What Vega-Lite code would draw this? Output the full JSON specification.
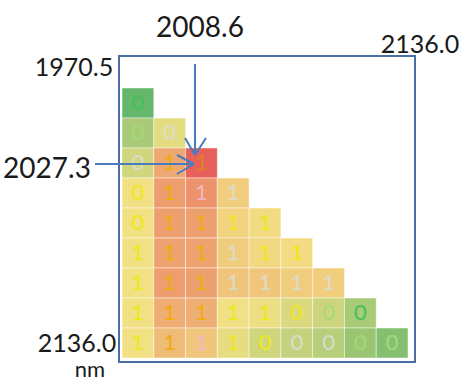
{
  "$schema": "https://vega.github.io/schema/vega-lite/v6.json",
  "width": 296,
  "height": 306,
  "autosize": {"type": "none"},
  "padding": {"left": 119, "top": 56, "right": 51, "bottom": 21},
  "background": "#ffffff",
  "config": {"view": {"stroke": "#4b6ea6", "strokeWidth": 2}, "font": "Lato"},
  "datasets": {
    "cells": [
      {"row": 0, "col": 0, "v": 0.02, "label": "0", "tone": "green"},
      {"row": 1, "col": 0, "v": 0.25, "label": "0", "tone": "lime"},
      {"row": 1, "col": 1, "v": 0.45, "label": "0", "tone": "grey"},
      {"row": 2, "col": 0, "v": 0.38, "label": "0", "tone": "grey"},
      {"row": 2, "col": 1, "v": 0.72, "label": "1", "tone": "gold"},
      {"row": 2, "col": 2, "v": 1.0, "label": "1", "tone": "amber"},
      {"row": 3, "col": 0, "v": 0.5, "label": "0", "tone": "yellow"},
      {"row": 3, "col": 1, "v": 0.76, "label": "1", "tone": "gold"},
      {"row": 3, "col": 2, "v": 0.8, "label": "1", "tone": "pink"},
      {"row": 3, "col": 3, "v": 0.57, "label": "1", "tone": "grey"},
      {"row": 4, "col": 0, "v": 0.5, "label": "0", "tone": "yellow"},
      {"row": 4, "col": 1, "v": 0.75, "label": "1", "tone": "gold"},
      {"row": 4, "col": 2, "v": 0.75, "label": "1", "tone": "gold"},
      {"row": 4, "col": 3, "v": 0.55, "label": "1", "tone": "yellow"},
      {"row": 4, "col": 4, "v": 0.52, "label": "1", "tone": "yellow"},
      {"row": 5, "col": 0, "v": 0.5, "label": "1", "tone": "yellow"},
      {"row": 5, "col": 1, "v": 0.74, "label": "1", "tone": "gold"},
      {"row": 5, "col": 2, "v": 0.74, "label": "1", "tone": "gold"},
      {"row": 5, "col": 3, "v": 0.58, "label": "1", "tone": "grey"},
      {"row": 5, "col": 4, "v": 0.53, "label": "1", "tone": "yellow"},
      {"row": 5, "col": 5, "v": 0.52, "label": "1", "tone": "yellow"},
      {"row": 6, "col": 0, "v": 0.5, "label": "1", "tone": "yellow"},
      {"row": 6, "col": 1, "v": 0.76, "label": "1", "tone": "gold"},
      {"row": 6, "col": 2, "v": 0.75, "label": "1", "tone": "gold"},
      {"row": 6, "col": 3, "v": 0.61, "label": "1", "tone": "grey"},
      {"row": 6, "col": 4, "v": 0.6, "label": "1", "tone": "grey"},
      {"row": 6, "col": 5, "v": 0.58, "label": "1", "tone": "grey"},
      {"row": 6, "col": 6, "v": 0.57, "label": "1", "tone": "grey"},
      {"row": 7, "col": 0, "v": 0.5, "label": "1", "tone": "yellow"},
      {"row": 7, "col": 1, "v": 0.7, "label": "1", "tone": "gold"},
      {"row": 7, "col": 2, "v": 0.69, "label": "1", "tone": "gold"},
      {"row": 7, "col": 3, "v": 0.5, "label": "1", "tone": "yellow"},
      {"row": 7, "col": 4, "v": 0.48, "label": "1", "tone": "yellow"},
      {"row": 7, "col": 5, "v": 0.42, "label": "0", "tone": "yellow"},
      {"row": 7, "col": 6, "v": 0.37, "label": "0", "tone": "lime"},
      {"row": 7, "col": 7, "v": 0.25, "label": "0", "tone": "green"},
      {"row": 8, "col": 0, "v": 0.5, "label": "1", "tone": "yellow"},
      {"row": 8, "col": 1, "v": 0.64, "label": "1", "tone": "gold"},
      {"row": 8, "col": 2, "v": 0.6, "label": "1", "tone": "pink"},
      {"row": 8, "col": 3, "v": 0.46, "label": "1", "tone": "yellow"},
      {"row": 8, "col": 4, "v": 0.38, "label": "0", "tone": "yellow"},
      {"row": 8, "col": 5, "v": 0.34, "label": "0", "tone": "grey"},
      {"row": 8, "col": 6, "v": 0.3, "label": "0", "tone": "grey"},
      {"row": 8, "col": 7, "v": 0.2, "label": "0", "tone": "lime"},
      {"row": 8, "col": 8, "v": 0.13, "label": "0", "tone": "lime"}
    ],
    "arrows": [
      {"x": 2.288, "y": -0.803, "x2": 2.288, "y2": 2.23},
      {"x": 1.974, "y": 1.663, "x2": 2.288, "y2": 2.23},
      {"x": 2.633, "y": 1.663, "x2": 2.288, "y2": 2.23},
      {"x": -0.854, "y": 2.53, "x2": 2.256, "y2": 2.53},
      {"x": 1.722, "y": 2.23, "x2": 2.256, "y2": 2.53},
      {"x": 1.722, "y": 2.863, "x2": 2.256, "y2": 2.53}
    ],
    "notes": [
      {"x": 2.445, "y": -1.97, "label": "2008.6", "kind": "big"},
      {"x": -2.362, "y": 2.73, "label": "2027.3", "kind": "big"},
      {"x": -1.514, "y": -0.67, "label": "1970.5", "kind": "small"},
      {"x": 9.357, "y": -1.437, "label": "2136.0", "kind": "small"},
      {"x": -1.42, "y": 8.53, "label": "2136.0", "kind": "small"},
      {"x": -1.011, "y": 9.38, "label": "nm", "kind": "unit"}
    ]
  },
  "layer": [
    {
      "data": {"name": "cells"},
      "mark": {"type": "rect", "stroke": "#ffffff", "strokeOpacity": 0.45, "strokeWidth": 1},
      "encoding": {
        "x": {"field": "col", "type": "ordinal", "scale": {"domain": [0,1,2,3,4,5,6,7,8], "range": [3, 289], "paddingInner": 0, "paddingOuter": 0}, "axis": null},
        "y": {"field": "row", "type": "ordinal", "scale": {"domain": [0,1,2,3,4,5,6,7,8], "range": [32, 302], "paddingInner": 0, "paddingOuter": 0}, "axis": null},
        "color": {"field": "v", "type": "quantitative", "scale": {"domain": [0, 0.5, 1], "range": ["#5fb56a", "#f2e084", "#e8605a"], "interpolate": "rgb"}, "legend": null}
      }
    },
    {
      "data": {"name": "cells"},
      "mark": {"type": "text", "fontSize": 22, "baseline": "middle", "align": "center"},
      "encoding": {
        "x": {"field": "col", "type": "ordinal", "scale": {"domain": [0,1,2,3,4,5,6,7,8], "range": [3, 289], "paddingInner": 0, "paddingOuter": 0}, "axis": null},
        "y": {"field": "row", "type": "ordinal", "scale": {"domain": [0,1,2,3,4,5,6,7,8], "range": [32, 302], "paddingInner": 0, "paddingOuter": 0}, "axis": null},
        "text": {"field": "label"},
        "color": {"field": "tone", "type": "nominal", "scale": {"domain": ["green", "lime", "grey", "gold", "amber", "yellow", "pink"], "range": ["#44c058", "#a6d877", "#dcdccc", "#f2ac08", "#dd8420", "#eee818", "#f2b8c6"]}, "legend": null}
      }
    },
    {
      "data": {"name": "arrows"},
      "mark": {"type": "rule", "color": "#4a7bbf", "strokeWidth": 2},
      "encoding": {
        "x": {"field": "x", "type": "quantitative", "scale": {"domain": [-0.1, 9.2], "nice": false, "zero": false}, "axis": null},
        "y": {"field": "y", "type": "quantitative", "scale": {"domain": [-1.07, 9.13], "nice": false, "zero": false, "reverse": true}, "axis": null},
        "x2": {"field": "x2"},
        "y2": {"field": "y2"}
      }
    },
    {
      "data": {"name": "notes"},
      "transform": [{"filter": "datum.kind === 'big'"}],
      "mark": {"type": "text", "fontSize": 28, "color": "#1a1a1a", "baseline": "middle", "align": "center"},
      "encoding": {
        "x": {"field": "x", "type": "quantitative", "scale": {"domain": [-0.1, 9.2], "nice": false, "zero": false}, "axis": null},
        "y": {"field": "y", "type": "quantitative", "scale": {"domain": [-1.07, 9.13], "nice": false, "zero": false, "reverse": true}, "axis": null},
        "text": {"field": "label"}
      }
    },
    {
      "data": {"name": "notes"},
      "transform": [{"filter": "datum.kind === 'small'"}],
      "mark": {"type": "text", "fontSize": 25, "color": "#1a1a1a", "baseline": "middle", "align": "center"},
      "encoding": {
        "x": {"field": "x", "type": "quantitative", "scale": {"domain": [-0.1, 9.2], "nice": false, "zero": false}, "axis": null},
        "y": {"field": "y", "type": "quantitative", "scale": {"domain": [-1.07, 9.13], "nice": false, "zero": false, "reverse": true}, "axis": null},
        "text": {"field": "label"}
      }
    },
    {
      "data": {"name": "notes"},
      "transform": [{"filter": "datum.kind === 'unit'"}],
      "mark": {"type": "text", "fontSize": 22, "color": "#1a1a1a", "baseline": "middle", "align": "center"},
      "encoding": {
        "x": {"field": "x", "type": "quantitative", "scale": {"domain": [-0.1, 9.2], "nice": false, "zero": false}, "axis": null},
        "y": {"field": "y", "type": "quantitative", "scale": {"domain": [-1.07, 9.13], "nice": false, "zero": false, "reverse": true}, "axis": null},
        "text": {"field": "label"}
      }
    }
  ],
  "resolve": {"scale": {"x": "independent", "y": "independent", "color": "independent"}}
}
